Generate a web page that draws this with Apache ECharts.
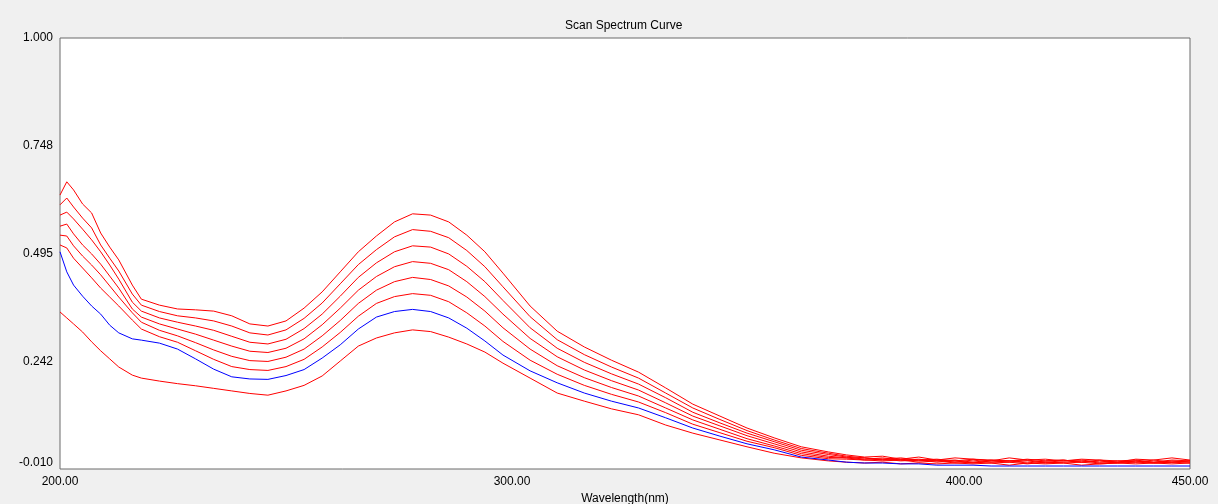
<!DOCTYPE html>
<html>
<head>
<meta charset="utf-8">
<script src="https://cdn.jsdelivr.net/npm/echarts@6/dist/echarts.min.js"></script>
<style>
html, body { margin: 0; padding: 0; background: #f0f0f0; }
#chart { width: 1218px; height: 504px; }
</style>
</head>
<body>
<div id="chart"></div>
<script>
// wavelengths (nm) shared by every scan
var wavelengths = [200, 201.5, 203, 205, 207, 209, 211, 213, 216, 218,
    222, 226, 230, 234, 238, 242, 246, 250, 254, 258, 262, 266, 270, 274, 278, 282, 286, 290, 294, 298,
    304, 310, 316, 322, 328, 334, 340, 346, 352, 358, 364, 370,
    374, 378, 382, 386, 390, 394, 398, 402, 406, 410, 414, 418, 422, 426, 430, 434, 438, 442, 446, 450];

// absorbance, top curve first
var curve1 = [0.632, 0.663, 0.644, 0.611, 0.590, 0.543, 0.510, 0.480, 0.421, 0.388,
    0.374, 0.365, 0.363, 0.360, 0.349, 0.330, 0.325, 0.337, 0.367, 0.405, 0.452, 0.499, 0.536, 0.569, 0.588, 0.585, 0.569, 0.538, 0.499, 0.449,
    0.372, 0.313, 0.276, 0.245, 0.217, 0.180, 0.142, 0.114, 0.086, 0.063, 0.042, 0.030,
    0.023, 0.018, 0.020, 0.013, 0.018, 0.011, 0.016, 0.013, 0.009, 0.016, 0.011, 0.013, 0.009, 0.013, 0.011, 0.006, 0.013, 0.011, 0.016, 0.011];
var curve2 = [0.609, 0.625, 0.604, 0.578, 0.555, 0.515, 0.484, 0.454, 0.400, 0.374,
    0.359, 0.349, 0.344, 0.337, 0.325, 0.309, 0.304, 0.316, 0.343, 0.379, 0.424, 0.469, 0.504, 0.534, 0.551, 0.547, 0.532, 0.502, 0.464, 0.417,
    0.347, 0.293, 0.258, 0.229, 0.203, 0.168, 0.133, 0.106, 0.080, 0.058, 0.038, 0.027,
    0.020, 0.016, 0.013, 0.016, 0.011, 0.013, 0.009, 0.013, 0.011, 0.009, 0.013, 0.009, 0.011, 0.006, 0.011, 0.009, 0.011, 0.006, 0.011, 0.009];
var curve3 = [0.585, 0.592, 0.576, 0.552, 0.527, 0.499, 0.468, 0.435, 0.381, 0.360,
    0.344, 0.334, 0.325, 0.315, 0.301, 0.287, 0.283, 0.294, 0.319, 0.353, 0.395, 0.439, 0.473, 0.499, 0.513, 0.510, 0.494, 0.465, 0.429, 0.385,
    0.321, 0.273, 0.240, 0.213, 0.189, 0.157, 0.123, 0.098, 0.074, 0.054, 0.034, 0.024,
    0.018, 0.013, 0.016, 0.011, 0.013, 0.009, 0.011, 0.006, 0.011, 0.009, 0.011, 0.006, 0.009, 0.011, 0.006, 0.009, 0.006, 0.011, 0.006, 0.009];
var curve4 = [0.559, 0.564, 0.541, 0.515, 0.494, 0.470, 0.442, 0.414, 0.365, 0.346,
    0.330, 0.318, 0.306, 0.292, 0.278, 0.266, 0.263, 0.273, 0.295, 0.328, 0.367, 0.409, 0.441, 0.464, 0.476, 0.472, 0.457, 0.429, 0.394, 0.353,
    0.296, 0.253, 0.222, 0.197, 0.175, 0.145, 0.114, 0.091, 0.068, 0.049, 0.030, 0.020,
    0.016, 0.016, 0.011, 0.013, 0.009, 0.011, 0.006, 0.011, 0.006, 0.009, 0.004, 0.009, 0.011, 0.006, 0.009, 0.004, 0.009, 0.006, 0.009, 0.006];
var curve5 = [0.538, 0.536, 0.513, 0.489, 0.468, 0.445, 0.419, 0.393, 0.356, 0.334,
    0.315, 0.302, 0.286, 0.269, 0.254, 0.244, 0.242, 0.252, 0.271, 0.302, 0.338, 0.378, 0.409, 0.429, 0.439, 0.434, 0.419, 0.393, 0.360, 0.321,
    0.271, 0.232, 0.204, 0.181, 0.161, 0.133, 0.105, 0.083, 0.061, 0.044, 0.026, 0.017,
    0.016, 0.011, 0.013, 0.009, 0.011, 0.006, 0.009, 0.004, 0.009, 0.006, 0.009, 0.004, 0.006, 0.009, 0.004, 0.006, 0.009, 0.004, 0.006, 0.009];
var curve6 = [0.515, 0.508, 0.484, 0.461, 0.438, 0.414, 0.393, 0.372, 0.339, 0.318,
    0.300, 0.287, 0.267, 0.247, 0.230, 0.223, 0.221, 0.230, 0.247, 0.276, 0.310, 0.348, 0.378, 0.394, 0.401, 0.397, 0.382, 0.356, 0.325, 0.289,
    0.245, 0.212, 0.186, 0.165, 0.147, 0.122, 0.095, 0.075, 0.055, 0.040, 0.022, 0.014,
    0.013, 0.011, 0.009, 0.011, 0.006, 0.009, 0.004, 0.006, 0.004, 0.006, 0.002, 0.006, 0.004, 0.006, 0.002, 0.004, 0.006, 0.004, 0.006, 0.004];
var blueCurve = [0.499, 0.452, 0.421, 0.395, 0.372, 0.353, 0.327, 0.309, 0.295, 0.292,
    0.285, 0.271, 0.248, 0.224, 0.206, 0.201, 0.200, 0.209, 0.223, 0.250, 0.281, 0.318, 0.346, 0.359, 0.364, 0.359, 0.344, 0.320, 0.290, 0.257,
    0.220, 0.192, 0.168, 0.149, 0.133, 0.110, 0.086, 0.067, 0.049, 0.035, 0.018, 0.011,
    0.006, 0.004, 0.004, 0.002, 0.002, -0.001, -0.001, -0.001, -0.003, -0.003, -0.003, -0.003, -0.003, -0.003, -0.003, -0.003, -0.003, -0.003, -0.003, -0.003];
var curve8 = [0.358, 0.344, 0.330, 0.311, 0.288, 0.267, 0.248, 0.229, 0.210, 0.203,
    0.196, 0.190, 0.185, 0.179, 0.173, 0.167, 0.163, 0.173, 0.186, 0.208, 0.243, 0.278, 0.297, 0.309, 0.316, 0.312, 0.299, 0.283, 0.264, 0.238,
    0.203, 0.168, 0.149, 0.131, 0.117, 0.093, 0.074, 0.058, 0.042, 0.027, 0.016, 0.009,
    0.006, 0.004, 0.006, 0.002, 0.004, 0.002, 0.004, 0.002, 0.004, -0.001, 0.004, 0.002, 0.004, -0.001, 0.002, 0.004, 0.002, 0.004, 0.002, 0.004];

var xTicks = [200, 300, 400, 450];
var yTicks = [-0.01, 0.242, 0.495, 0.748, 1.0];

var font = { fontFamily: 'Liberation Sans', fontSize: 12, color: '#000' };

function pairs(values) {
    return wavelengths.map(function (w, i) { return [w, values[i]]; });
}

function lineSeries(name, values, color) {
    return {
        name: name,
        type: 'line',
        showSymbol: false,
        data: pairs(values),
        lineStyle: { color: color, width: 1 },
        itemStyle: { color: color }
    };
}

var chart = echarts.init(document.getElementById('chart'));

var option = {
    animation: false,
    backgroundColor: '#f0f0f0',
    title: {
        text: 'Scan Spectrum Curve',
        left: 565,
        top: 20,
        padding: 0,
        textStyle: { fontFamily: 'Liberation Sans', fontSize: 12, fontWeight: 'normal', color: '#000' }
    },
    grid: {
        left: 60, right: 28, top: 38, bottom: 35,
        outerBoundsMode: 'none',
        show: true,
        backgroundColor: '#fff',
        borderColor: '#6a6a6a',
        borderWidth: 1
    },
    xAxis: {
        type: 'value',
        min: 200,
        max: 450,
        name: 'Wavelength(nm)',
        nameLocation: 'middle',
        nameGap: 15,
        nameTextStyle: font,
        axisLine: { show: false },
        axisTick: { show: false },
        splitLine: { show: false },
        axisLabel: {
            customValues: xTicks,
            formatter: function (v) { return v.toFixed(2); },
            margin: 7,
            fontFamily: font.fontFamily, fontSize: 12, color: '#000'
        }
    },
    yAxis: {
        type: 'value',
        min: -0.01,
        max: 1.0,
        axisLine: { show: false },
        axisTick: { show: false },
        splitLine: { show: false },
        axisLabel: {
            customValues: yTicks,
            formatter: function (v) { return v.toFixed(3); },
            margin: 7,
            verticalAlignMinLabel: 'bottom',
            fontFamily: font.fontFamily, fontSize: 12, color: '#000'
        }
    },
    series: [
        lineSeries('scan 8', curve8, '#ff0000'),
        lineSeries('blank', blueCurve, '#0000ff'),
        lineSeries('scan 6', curve6, '#ff0000'),
        lineSeries('scan 5', curve5, '#ff0000'),
        lineSeries('scan 4', curve4, '#ff0000'),
        lineSeries('scan 3', curve3, '#ff0000'),
        lineSeries('scan 2', curve2, '#ff0000'),
        lineSeries('scan 1', curve1, '#ff0000')
    ]
};
chart.setOption(option);
</script>
</body>
</html>
